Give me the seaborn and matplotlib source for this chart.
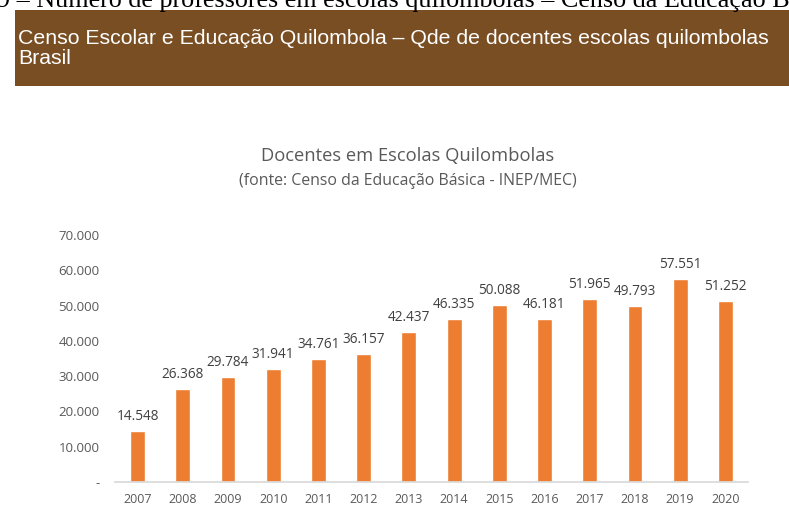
import matplotlib
matplotlib.use("Agg")
import matplotlib.pyplot as plt
import seaborn as sns
from matplotlib.patches import Rectangle

# data
years = ["2007", "2008", "2009", "2010", "2011", "2012", "2013",
         "2014", "2015", "2016", "2017", "2018", "2019", "2020"]
docentes = [14548, 26368, 29784, 31941, 34761, 36157, 42437,
            46335, 50088, 46181, 51965, 49793, 57551, 51252]
y_ticks = [0, 10000, 20000, 30000, 40000, 50000, 60000, 70000]

sns.set_theme(style="white")
plt.rcParams['font.family'] = ['Open Sans', 'DejaVu Sans']

W, H = 789, 513
fig = plt.figure(figsize=(W / 100, H / 100), dpi=100)

def fx(px):
    return px / W

def fy(py):
    return 1 - py / H

# caption line at the very top (cut by the page edge in the source)
fig.text(fx(-3), fy(7), "9 – Número de professores em escolas quilombolas – Censo da Educação Básica",
         family="Liberation Serif", fontsize=18.8, color="black", va="baseline", ha="left")

# brown banner
fig.patches.append(Rectangle((fx(15), fy(86)), fx(W) - fx(15) + 0.01, fy(10) - fy(86),
                             transform=fig.transFigure, facecolor="#7A4E23", edgecolor="none", zorder=0))
fig.text(fx(18), fy(38), "Censo Escolar e Educação Quilombola – Qde de docentes escolas quilombolas",
         family="Liberation Sans", fontsize=15.3, color="white", va="center", ha="left")
fig.text(fx(18), fy(58), "Brasil",
         family="Liberation Sans", fontsize=15.3, color="white", va="center", ha="left")

# chart titles
fig.text(fx(408), fy(156), "Docentes em Escolas Quilombolas",
         fontsize=13.2, color="#595959", ha="center", va="center")
fig.text(fx(408), fy(181), "(fonte: Censo da Educação Básica - INEP/MEC)",
         fontsize=11.4, color="#595959", ha="center", va="center")

ax = fig.add_axes([fx(115), fy(482), fx(748) - fx(115), fy(235) - fy(482)])
sns.barplot(x=years, y=docentes, color="#ED7D31", saturation=1, width=0.33, ax=ax)

ax.set_ylim(0, 70000)
ax.set_xlim(-0.5, len(years) - 0.5)
ax.set_yticks(y_ticks)
ax.set_yticklabels(["-" if v == 0 else f"{v:,}".replace(",", ".") for v in y_ticks])
ax.tick_params(axis="y", length=0, pad=11, labelsize=9.5, labelcolor="#595959")
ax.tick_params(axis="x", length=0, pad=8, labelsize=9, labelcolor="#595959")

for i, v in enumerate(docentes):
    ax.annotate(f"{v:,}".replace(",", "."), (i, v), xytext=(0, 5), textcoords="offset points",
                ha="center", va="bottom", fontsize=9.8, color="#404040")

for side in ["top", "right", "left"]:
    ax.spines[side].set_visible(False)
ax.spines["bottom"].set_color("#D9D9D9")
ax.set_xlabel("")
ax.set_ylabel("")
ax.set_facecolor("none")

fig.savefig("out.png", dpi=100)
